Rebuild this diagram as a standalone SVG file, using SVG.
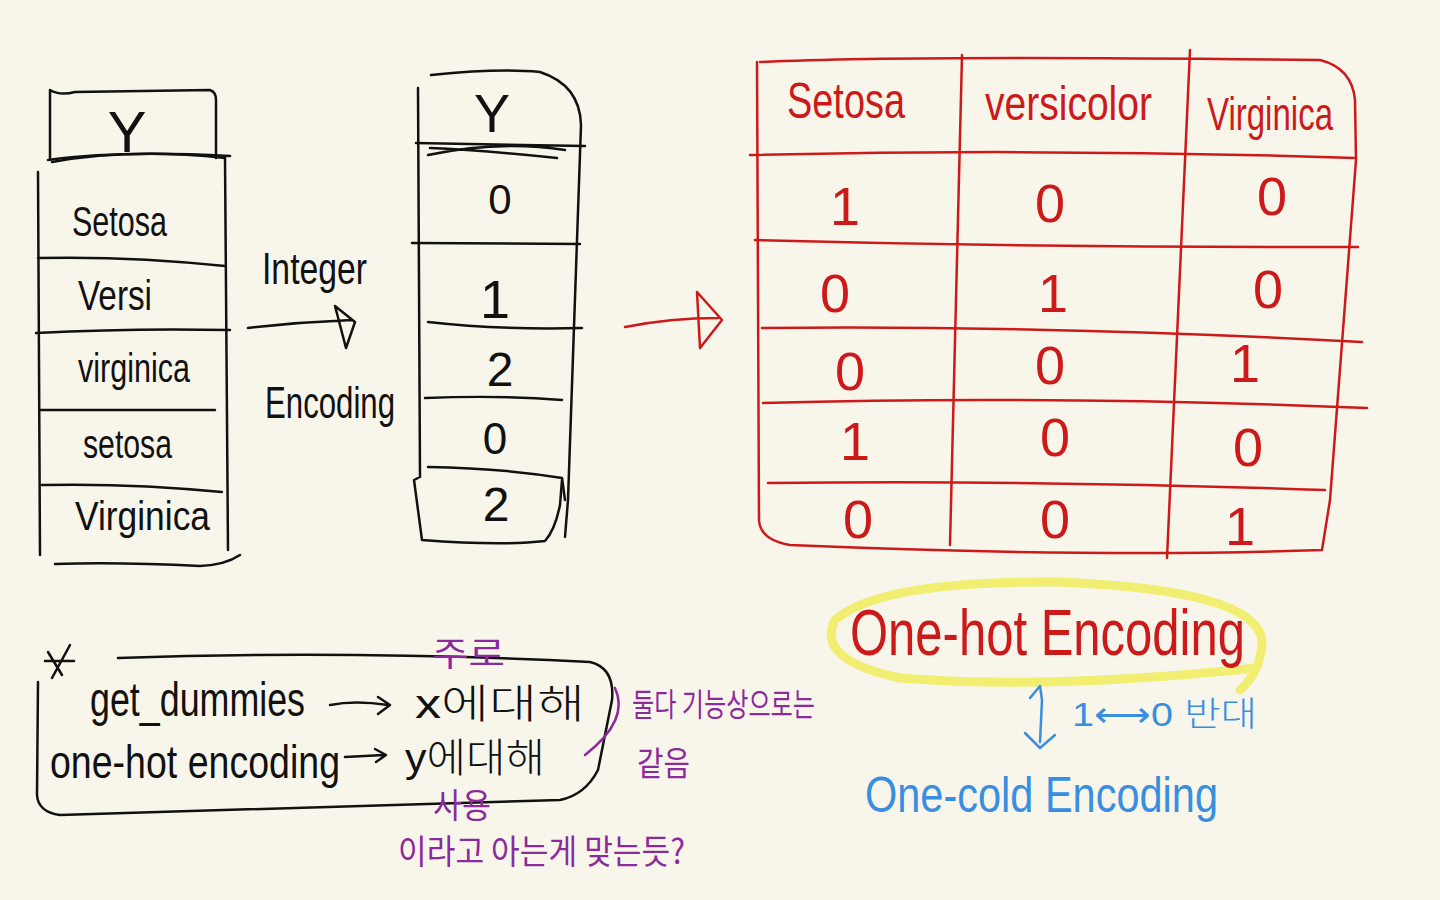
<svg xmlns="http://www.w3.org/2000/svg" width="1440" height="900" viewBox="0 0 1440 900">
<style>
.bk{fill:none;stroke:#111;stroke-width:2.5;stroke-linecap:round;stroke-linejoin:round}
.rd{fill:none;stroke:#cc1a1a;stroke-width:2.5;stroke-linecap:round;stroke-linejoin:round}
.bl{fill:none;stroke:#3a8ee0;stroke-width:2.5;stroke-linecap:round;stroke-linejoin:round}
.pu{fill:none;stroke:#8b2a9c;stroke-width:2.5;stroke-linecap:round}
.t{font-family:"Liberation Sans Narrow","Liberation Sans",sans-serif;font-weight:300}
.tk{fill:#111}
.tr{fill:#cc1a1a}
.tb{fill:#3a8ee0}
.tp{fill:#8b2a9c;font-family:"Noto Sans CJK KR","Liberation Sans",sans-serif}
.tkr{font-family:"Liberation Sans","Noto Sans CJK KR",sans-serif}
</style>
<rect width="1440" height="900" fill="#f8f6eb"/>

<g id="left-table">
<path class="bk" d="M50 158 L50 90 Q60 96 75 92 L210 90 Q216 92 216 100 L216 158"/>
<path class="bk" d="M48 160 Q120 150 230 156"/>
<path class="bk" d="M52 162 Q130 148 225 158"/>
<path class="bk" d="M38 172 L40 555 M225 158 L228 550"/>
<path class="bk" d="M38 258 Q130 256 225 266"/>
<path class="bk" d="M36 333 Q130 328 230 330"/>
<path class="bk" d="M40 410 L215 410"/>
<path class="bk" d="M42 485 Q130 483 222 492"/>
<path class="bk" d="M55 564 Q120 562 200 566 Q225 565 240 555"/>
<text class="t tk" x="127" y="152" font-size="58" text-anchor="middle">Y</text>
<text class="t tk" x="72" y="236" font-size="42" textLength="95" lengthAdjust="spacingAndGlyphs">Setosa</text>
<text class="t tk" x="78" y="310" font-size="42" textLength="74" lengthAdjust="spacingAndGlyphs">Versi</text>
<text class="t tk" x="78" y="382" font-size="40" textLength="112" lengthAdjust="spacingAndGlyphs">virginica</text>
<text class="t tk" x="83" y="458" font-size="40" textLength="89" lengthAdjust="spacingAndGlyphs">setosa</text>
<text class="t tk" x="75" y="530" font-size="40" textLength="135" lengthAdjust="spacingAndGlyphs">Virginica</text>
</g>

<g id="integer-encoding">
<text class="t tk" x="262" y="284" font-size="44" textLength="105" lengthAdjust="spacingAndGlyphs">Integer</text>
<text class="t tk" x="265" y="418" font-size="44" textLength="130" lengthAdjust="spacingAndGlyphs">Encoding</text>
</g>

<g id="mid-table">
<path class="bk" d="M431 75 Q500 68 540 72 Q580 85 581 125 L568 500 L565 537"/>
<path class="bk" d="M418 88 L420 477 M418 478 L414 480 L422 540 Q500 546 545 541 Q555 530 560 505 L562 480"/>
<path class="bk" d="M416 143 L585 146 M428 155 Q500 140 565 150 M430 148 Q480 150 557 158"/>
<path class="bk" d="M412 243 L580 244"/>
<path class="bk" d="M428 322 Q500 330 582 328"/>
<path class="bk" d="M425 398 Q500 395 562 400"/>
<path class="bk" d="M428 467 Q500 468 562 478 L565 500"/>
<text class="t tk" x="492" y="132" font-size="54" text-anchor="middle">Y</text>
<text class="t tk" x="500" y="214" font-size="42" text-anchor="middle">0</text>
<text class="t tk" x="495" y="318" font-size="54" text-anchor="middle">1</text>
<text class="t tk" x="500" y="386" font-size="48" text-anchor="middle">2</text>
<text class="t tk" x="495" y="454" font-size="44" text-anchor="middle">0</text>
<text class="t tk" x="496" y="521" font-size="48" text-anchor="middle">2</text>
</g>

<g id="onehot-table">
<path class="rd" d="M760 62 Q900 55 1320 60 Q1352 68 1355 100 L1356 160 L1330 500 L1322 550 Q1100 558 790 545 Q760 540 759 520 L757 62"/>
<path class="rd" d="M962 55 L950 545"/>
<path class="rd" d="M1190 50 L1167 558"/>
<path class="rd" d="M750 155 Q1050 148 1355 158"/>
<path class="rd" d="M755 240 Q1050 248 1358 247"/>
<path class="rd" d="M762 328 Q1050 325 1362 342"/>
<path class="rd" d="M763 403 Q1050 395 1367 408"/>
<path class="rd" d="M768 483 Q1050 480 1325 490"/>
<text class="t tr" x="787" y="118" font-size="50" textLength="118" lengthAdjust="spacingAndGlyphs">Setosa</text>
<text class="t tr" x="985" y="120" font-size="48" textLength="167" lengthAdjust="spacingAndGlyphs">versicolor</text>
<text class="t tr" x="1207" y="130" font-size="46" textLength="126" lengthAdjust="spacingAndGlyphs">Virginica</text>
<g class="t tr" font-size="54" text-anchor="middle">
<text x="845" y="225">1</text><text x="1050" y="222">0</text><text x="1272" y="215">0</text>
<text x="835" y="312">0</text><text x="1053" y="312">1</text><text x="1268" y="308">0</text>
<text x="850" y="390">0</text><text x="1050" y="384">0</text><text x="1245" y="382">1</text>
<text x="855" y="460">1</text><text x="1055" y="456">0</text><text x="1248" y="466">0</text>
<text x="858" y="538">0</text><text x="1055" y="538">0</text><text x="1240" y="545">1</text>
</g>
</g>

<g id="onehot-label">
<path d="M1240 690 Q1262 670 1262 640 Q1255 590 1060 582 Q880 580 835 620 Q815 660 900 678 Q1050 690 1255 668" fill="none" stroke="#f1ee72" stroke-width="9" stroke-linecap="round"/>
<text class="t tr" x="850" y="655" font-size="64" textLength="395" lengthAdjust="spacingAndGlyphs">One-hot  Encoding</text>
</g>

<g id="onecold-label">
<text class="t tb tkr" x="1072" y="726" font-size="34" textLength="185" lengthAdjust="spacingAndGlyphs">1⟷0 반대</text>
<text class="t tb" x="865" y="812" font-size="50" textLength="353" lengthAdjust="spacingAndGlyphs">One-cold  Encoding</text>
</g>

<g id="note-box">
<path class="bk" d="M118 658 Q350 650 590 662 Q615 668 612 700 L598 770 Q585 795 560 800 L60 815 Q38 812 37 795 L38 682"/>
<path class="bk" d="M48 652 L62 675 M70 645 L52 678 M45 661 L74 661"/>
<text class="t tk" x="90" y="716" font-size="48" textLength="215" lengthAdjust="spacingAndGlyphs">get_dummies</text>
<text class="t tk tkr" x="415" y="718" font-size="40" textLength="170" lengthAdjust="spacingAndGlyphs">x에대해</text>
<text class="t tk" x="50" y="778" font-size="46" textLength="290" lengthAdjust="spacingAndGlyphs">one-hot encoding</text>
<text class="t tk tkr" x="405" y="772" font-size="40" textLength="140" lengthAdjust="spacingAndGlyphs">y에대해</text>
</g>

<g id="purple-notes">
<text class="tp" x="432" y="666" font-size="34" textLength="73" lengthAdjust="spacingAndGlyphs">주로</text>
<text class="tp" x="433" y="818" font-size="34" textLength="58" lengthAdjust="spacingAndGlyphs">사용</text>
<text class="tp" x="632" y="716" font-size="32" textLength="183" lengthAdjust="spacingAndGlyphs">둘다 기능상으로는</text>
<text class="tp" x="637" y="776" font-size="34" textLength="53" lengthAdjust="spacingAndGlyphs">같음</text>
<text class="tp" x="398" y="864" font-size="34" textLength="287" lengthAdjust="spacingAndGlyphs">이라고 아는게  맞는듯?</text>
</g>

<g id="connectors">
<path class="bk" d="M248 328 Q300 322 352 320 M335 306 L355 322 L346 348 L335 306"/>
<path class="rd" d="M625 327 Q670 318 718 318 M697 292 L722 320 L700 348 L697 292"/>
<path class="bk" d="M330 705 Q355 700 388 705 M378 697 L390 705 L378 714"/>
<path class="bk" d="M345 757 L384 755 M375 749 L386 755 L376 762"/>
<path class="pu" d="M615 688 Q630 720 585 755"/>
<path class="bl" d="M1030 698 L1040 686 L1042 700 L1040 742 M1025 733 L1040 748 L1055 735"/>
</g>
</svg>
